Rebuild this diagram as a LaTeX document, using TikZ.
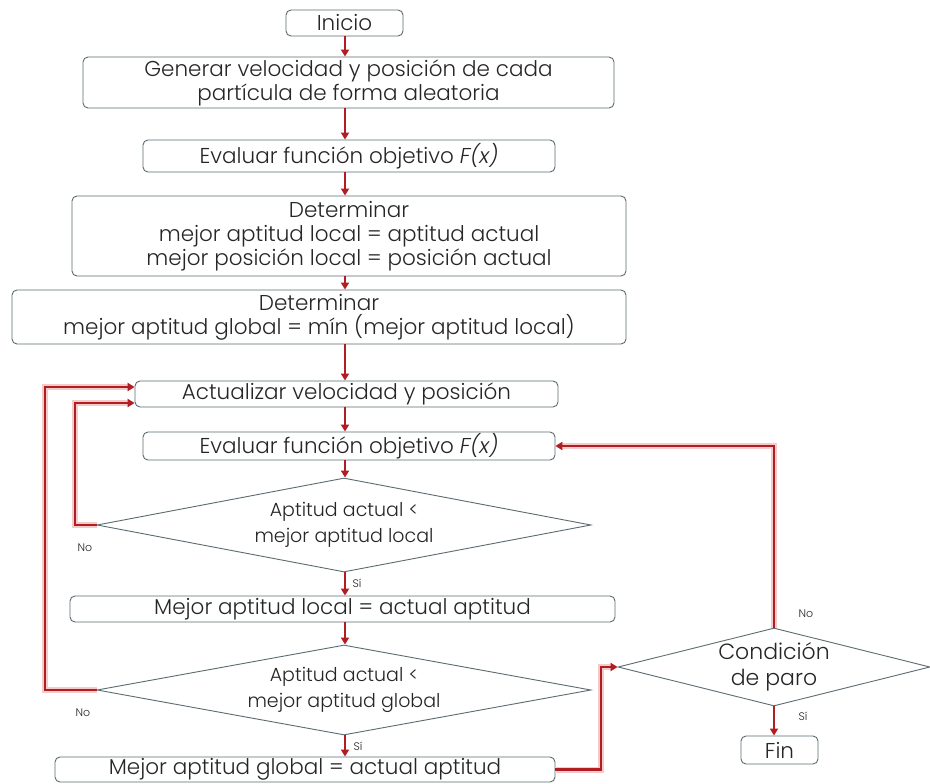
\documentclass[tikz,border=0pt]{standalone}
\usepackage{fontspec}
\setmainfont{Poppins}[UprightFont=* Light, ItalicFont=* Light Italic]
\usetikzlibrary{shapes.geometric,arrows.meta,calc}
\definecolor{bord}{HTML}{5B6B70}
\definecolor{rojo}{HTML}{B01E23}
\definecolor{glow}{HTML}{F4CACA}
\definecolor{txt}{HTML}{262626}
\begin{document}
\begin{tikzpicture}[x=1pt,y=-1pt,
  box/.style={draw=bord, line width=0.9pt, rounded corners=5pt, fill=white, align=center, text=txt, inner sep=0pt, font=\fontsize{21.5}{24}\selectfont},
  dia/.style={draw=bord, line width=0.9pt, diamond, fill=white, align=center, inner sep=0pt, text=txt},
  arr/.style={draw=rojo, line width=2pt, -{Triangle[length=7pt,width=8pt]}},
  back/.style={draw=rojo, line width=2.5pt, preaction={draw=glow, line width=6pt}, -{Triangle[length=7pt,width=8pt]}},
  lab/.style={font=\fontsize{11}{12}\selectfont, text=txt, inner sep=0pt}]
\useasboundingbox (0,0) rectangle (930,784);
\fill[white] (0,0) rectangle (930,784);
\node[box, minimum width=117pt, minimum height=26pt] (ini) at (344.5,23) {Inicio};
\node[box, minimum width=531pt, minimum height=51pt] (gen) at (348.5,82.5) {Generar velocidad y posición de cada\\partícula de forma aleatoria};
\node[box, minimum width=412pt, minimum height=32pt] (ev1) at (349,156) {Evaluar función objetivo \textit{F(x)}};
\node[box, minimum width=554pt, minimum height=80pt] (det1) at (349,236) {Determinar\\mejor aptitud local = aptitud actual\\mejor posición local = posición actual};
\node[box, minimum width=614pt, minimum height=54pt] (det2) at (319,317) {Determinar\\mejor aptitud global = mín (mejor aptitud local)};
\node[box, minimum width=423pt, minimum height=26pt] (act) at (346.5,394) {Actualizar velocidad y posición};
\node[box, minimum width=412pt, minimum height=28pt] (ev2) at (349,446) {Evaluar función objetivo \textit{F(x)}};
\node[dia, aspect=5.26, minimum width=494pt, minimum height=94pt, font=\fontsize{19}{26}\selectfont] (d1) at (344,525) {Aptitud actual <\\mejor aptitud local};
\node[box, minimum width=545pt, minimum height=26pt] (ml) at (342.5,609) {Mejor aptitud local = actual aptitud};
\node[dia, aspect=5.49, minimum width=494pt, minimum height=90pt, font=\fontsize{19}{26}\selectfont] (d2) at (344,690) {Aptitud actual <\\mejor aptitud global};
\node[box, minimum width=500pt, minimum height=25pt] (mg) at (305,769.5) {Mejor aptitud global = actual aptitud};
\node[dia, aspect=4, minimum width=312pt, minimum height=78pt, font=\fontsize{22}{26}\selectfont] (d3) at (774,667) {Condición\\de paro};
\node[box, minimum width=77pt, minimum height=28pt] (fin) at (779.5,750) {Fin};
\coordinate (col) at (345,0);
\coordinate (xin) at (75,0);
\coordinate (xout) at (45,0);
\coordinate (xr) at (601,0);
\coordinate (yin) at (0,403);
\coordinate (yout) at (0,387);
\draw[arr] (ini.south -| col) -- (gen.north -| col);
\draw[arr] (gen.south -| col) -- (ev1.north -| col);
\draw[arr] (ev1.south -| col) -- (det1.north -| col);
\draw[arr] (det1.south -| col) -- (det2.north -| col);
\draw[arr] (det2.south -| col) -- (act.north -| col);
\draw[arr] (act.south -| col) -- (ev2.north -| col);
\draw[arr] (ev2.south -| col) -- (d1.north -| col);
\draw[arr] (d1.south -| col) -- (ml.north -| col);
\draw[arr] (ml.south -| col) -- (d2.north -| col);
\draw[arr] (d2.south -| col) -- (mg.north -| col);
\draw[arr] (d3.south) -- (d3.south |- fin.north);
\draw[back] (d1.west) -- (d1.west -| xin) -- (yin -| xin) -- (yin -| act.west);
\draw[back] (d2.west) -- (d2.west -| xout) -- (yout -| xout) -- (yout -| act.west);
\draw[back] (mg.east) -- (mg.east -| xr) -- (d3.west -| xr) -- (d3.west);
\draw[back] (d3.north) -- (d3.north |- ev2.east) -- (ev2.east);
\node[lab] (n1) at (85,548) {No};
\node[lab] (s1) at (357,583) {Sí};
\node[lab] (n2) at (83,713) {No};
\node[lab] (s2) at (358,746) {Sí};
\node[lab] (n3) at (806,614) {No};
\node[lab] (s3) at (803,716) {Sí};
\end{tikzpicture}
\end{document}
